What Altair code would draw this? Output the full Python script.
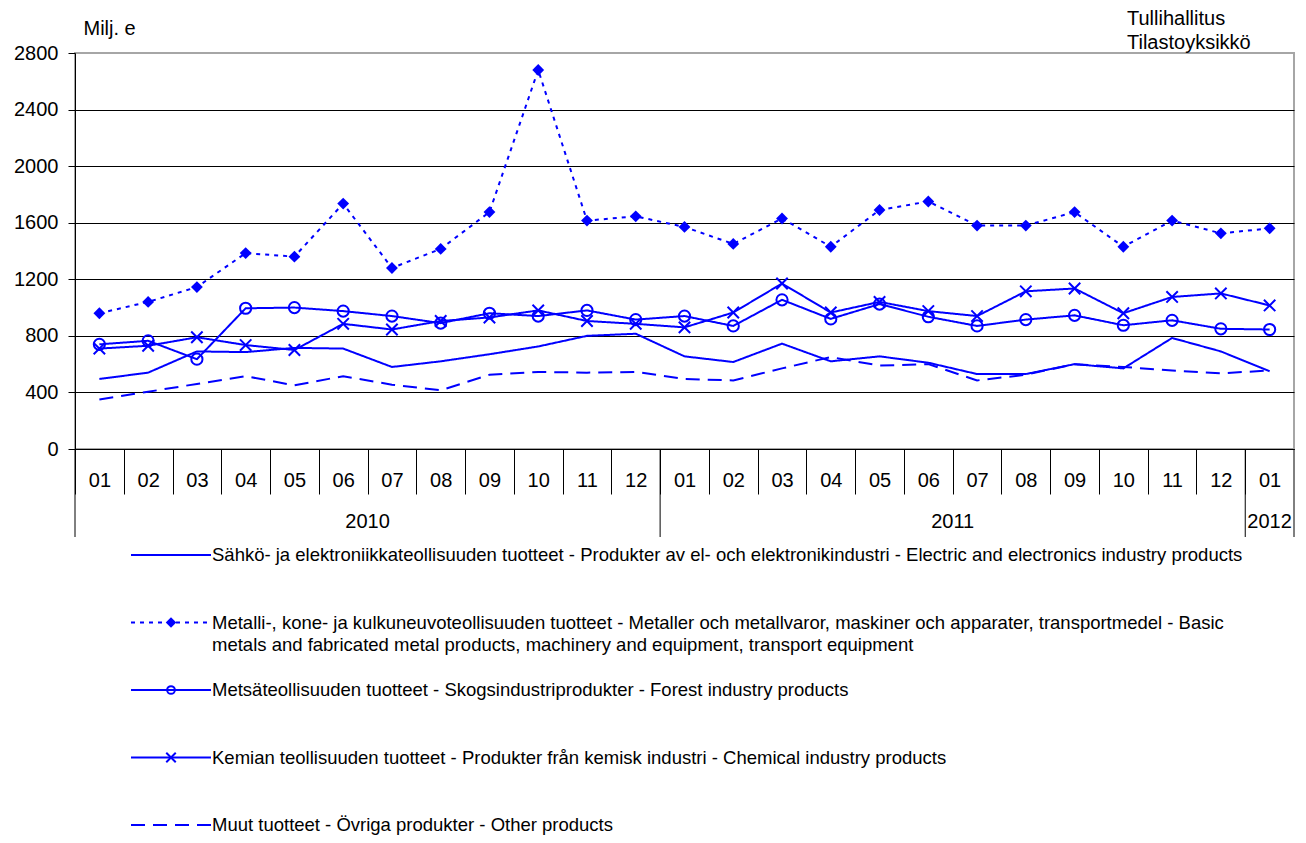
import json
import altair as alt
import pandas as pd

# ---------------- data ----------------
months = ["01", "02", "03", "04", "05", "06", "07", "08", "09", "10", "11", "12",
          "01", "02", "03", "04", "05", "06", "07", "08", "09", "10", "11", "12", "01"]
years = ["2010", "2011", "2012"]
year_centers = [6, 18, 24.5]
year_bounds = [0, 12, 24, 25]

series = [
    "Sähkö- ja elektroniikkateollisuuden tuotteet - Produkter av el- och elektronikindustri - Electric and electronics industry products",
    "Metalli-, kone- ja kulkuneuvoteollisuuden tuotteet - Metaller och metallvaror, maskiner och apparater, transportmedel - Basic\nmetals and fabricated metal products, machinery and equipment, transport equipment",
    "Metsäteollisuuden tuotteet - Skogsindustriprodukter - Forest industry products",
    "Kemian teollisuuden tuotteet - Produkter från kemisk industri - Chemical industry products",
    "Muut tuotteet - Övriga produkter - Other products",
]

electric = [495, 540, 690, 685, 715, 710, 580, 620, 670, 725, 800, 815,
            655, 615, 745, 620, 655, 610, 530, 530, 600, 570, 785, 690, 550]
metal = [960, 1040, 1145, 1385, 1360, 1735, 1280, 1415, 1675, 2680, 1615, 1645,
         1570, 1450, 1630, 1430, 1690, 1750, 1580, 1580, 1675, 1430, 1615, 1525, 1560]
forest = [740, 765, 635, 995, 1000, 975, 940, 890, 960, 940, 980, 915,
          940, 870, 1055, 920, 1025, 935, 870, 915, 945, 875, 910, 850, 845]
chemical = [710, 730, 790, 735, 700, 885, 845, 905, 930, 980, 905, 885,
            860, 965, 1170, 965, 1040, 975, 940, 1115, 1135, 960, 1075, 1100, 1015]
other = [350, 405, 460, 515, 450, 515, 455, 415, 525, 545, 540, 545,
         495, 485, 570, 650, 590, 600, 485, 525, 600, 580, 555, 535, 555]

values = [electric, metal, forest, chemical, other]
dashes = [[1, 0], [4, 5], [1, 0], [1, 0], [14, 8]]
y_ticks = [0, 400, 800, 1200, 1600, 2000, 2400, 2800]

BLUE = "#0000FF"
FONT = "Liberation Sans"
W, H = 1219, 396

rows = []
for s, vals in zip(series, values):
    for i, v in enumerate(vals):
        rows.append({"series": s, "pos": i + 0.5, "value": v})
df = pd.DataFrame(rows)

xscale = alt.Scale(domain=[0, 25], nice=False, zero=False)
dash_enc = alt.StrokeDash("series:N", scale=alt.Scale(domain=series, range=dashes), legend=None)

label_expr = json.dumps(months) + "[datum.value]"

x_axis = alt.Axis(
    values=list(range(25)), labelExpr=label_expr, labelOffset=W / 25 / 2,
    labelFlush=False, labelOverlap=False, labelPadding=-24, labelFontSize=20,
    labelFont=FONT, labelColor="black", tickSize=45, tickColor="black",
    domainColor="black", grid=False, title=None,
)
y_axis = alt.Axis(
    values=y_ticks, format="d", title="Milj. e", titleAngle=0, titleAlign="left",
    titleBaseline="alphabetic", titleX=8, titleY=-19, titleFontSize=20,
    titleFont=FONT, titleFontWeight="normal", titleColor="black",
    labelFontSize=20, labelFont=FONT, labelColor="black", labelPadding=10,
    tickSize=7, tickColor="black", domainColor="black",
    gridColor={"condition": {"test": "datum.value == 2800", "value": "#a6a6a6"}, "value": "#000000"},
    gridWidth=1,
)

base = alt.Chart(df)
lines = base.mark_line(strokeWidth=2, color=BLUE).encode(
    x=alt.X("pos:Q", scale=xscale, axis=x_axis),
    y=alt.Y("value:Q", scale=alt.Scale(domain=[0, 2800], nice=False), axis=y_axis),
    strokeDash=dash_enc,
    detail="series:N",
)
enc = dict(x=alt.X("pos:Q", scale=xscale), y=alt.Y("value:Q"))
diamonds = base.transform_filter(alt.datum.series == series[1]).mark_point(
    shape="diamond", filled=True, size=140, color=BLUE, opacity=1).encode(**enc)
circles = base.transform_filter(alt.datum.series == series[2]).mark_point(
    shape="circle", filled=False, size=125, color=BLUE, strokeWidth=2, opacity=1).encode(**enc)
crosses = base.transform_filter(alt.datum.series == series[3]).mark_point(
    shape="M-1,-1L1,1M-1,1L1,-1", filled=False, size=130, color=BLUE, strokeWidth=2, opacity=1).encode(**enc)

yb_df = pd.DataFrame({"b": year_bounds})
year_rules = alt.Chart(yb_df).mark_rule(color="black", strokeWidth=1).encode(
    x=alt.X("b:Q", scale=xscale), y=alt.value(H), y2=alt.value(H + 88))
yl_df = pd.DataFrame({"c": year_centers, "year": years})
year_text = alt.Chart(yl_df).mark_text(fontSize=20, font=FONT, color="black", baseline="middle").encode(
    x=alt.X("c:Q", scale=xscale), y=alt.value(H + 73), text="year:N")

main = alt.layer(lines, diamonds, circles, crosses, year_rules, year_text).properties(
    width=W, height=H,
    title=alt.TitleParams(
        text=["Tullihallitus", "Tilastoyksikkö"], anchor="end", align="left", dx=-167, dy=58,
        fontSize=20, font=FONT, fontWeight="normal", lineHeight=24,
        baseline="alphabetic", offset=7, frame="group", color="black"),
    view=alt.ViewBackground(stroke="#a6a6a6", strokeWidth=2),
)

# ---------------- legend ----------------
leg_rows = []
for s in series:
    for lx in (0, 1):
        leg_rows.append({"series": s, "lx": lx})
leg_df = pd.DataFrame(leg_rows)
mk_df = pd.DataFrame({"series": series, "lx": [0.5] * 5})
tx_df = pd.DataFrame({"series": series, "lx": [1] * 5})

lxs = alt.Scale(domain=[0, 1], range=[56, 136])
lys = alt.Scale(domain=series, type="point", padding=0)
LH = 270

leg_lines = alt.Chart(leg_df).mark_line(strokeWidth=2, color=BLUE).encode(
    x=alt.X("lx:Q", scale=lxs, axis=None),
    y=alt.Y("series:N", scale=lys, axis=None),
    strokeDash=dash_enc, detail="series:N")
lenc = dict(x=alt.X("lx:Q", scale=lxs, axis=None), y=alt.Y("series:N", scale=lys, axis=None))
leg_d = alt.Chart(mk_df).transform_filter(alt.datum.series == series[1]).mark_point(
    shape="diamond", filled=True, size=110, color=BLUE, opacity=1).encode(**lenc)
leg_c = alt.Chart(mk_df).transform_filter(alt.datum.series == series[2]).mark_point(
    shape="circle", filled=False, size=60, color=BLUE, strokeWidth=2, opacity=1).encode(**lenc)
leg_x = alt.Chart(mk_df).transform_filter(alt.datum.series == series[3]).mark_point(
    shape="M-1,-1L1,1M-1,1L1,-1", filled=False, size=90, color=BLUE, strokeWidth=2, opacity=1).encode(**lenc)
leg_t = alt.Chart(tx_df).mark_text(
    align="left", baseline="top", dx=1, dy=-9, fontSize=18.5, font=FONT, color="black",
    lineBreak="\n", lineHeight=22).encode(**lenc, text="series:N")

legend = alt.layer(leg_lines, leg_d, leg_c, leg_x, leg_t).properties(
    width=W, height=LH, view=alt.ViewBackground(stroke=None))

chart = alt.vconcat(main, legend, spacing=7).properties(
    padding={"left": 4, "top": 0, "right": 0, "bottom": 0}
).configure_view(stroke=None).configure(background="white")

chart.save("out.html", embed_options={"renderer": "svg", "actions": False})
